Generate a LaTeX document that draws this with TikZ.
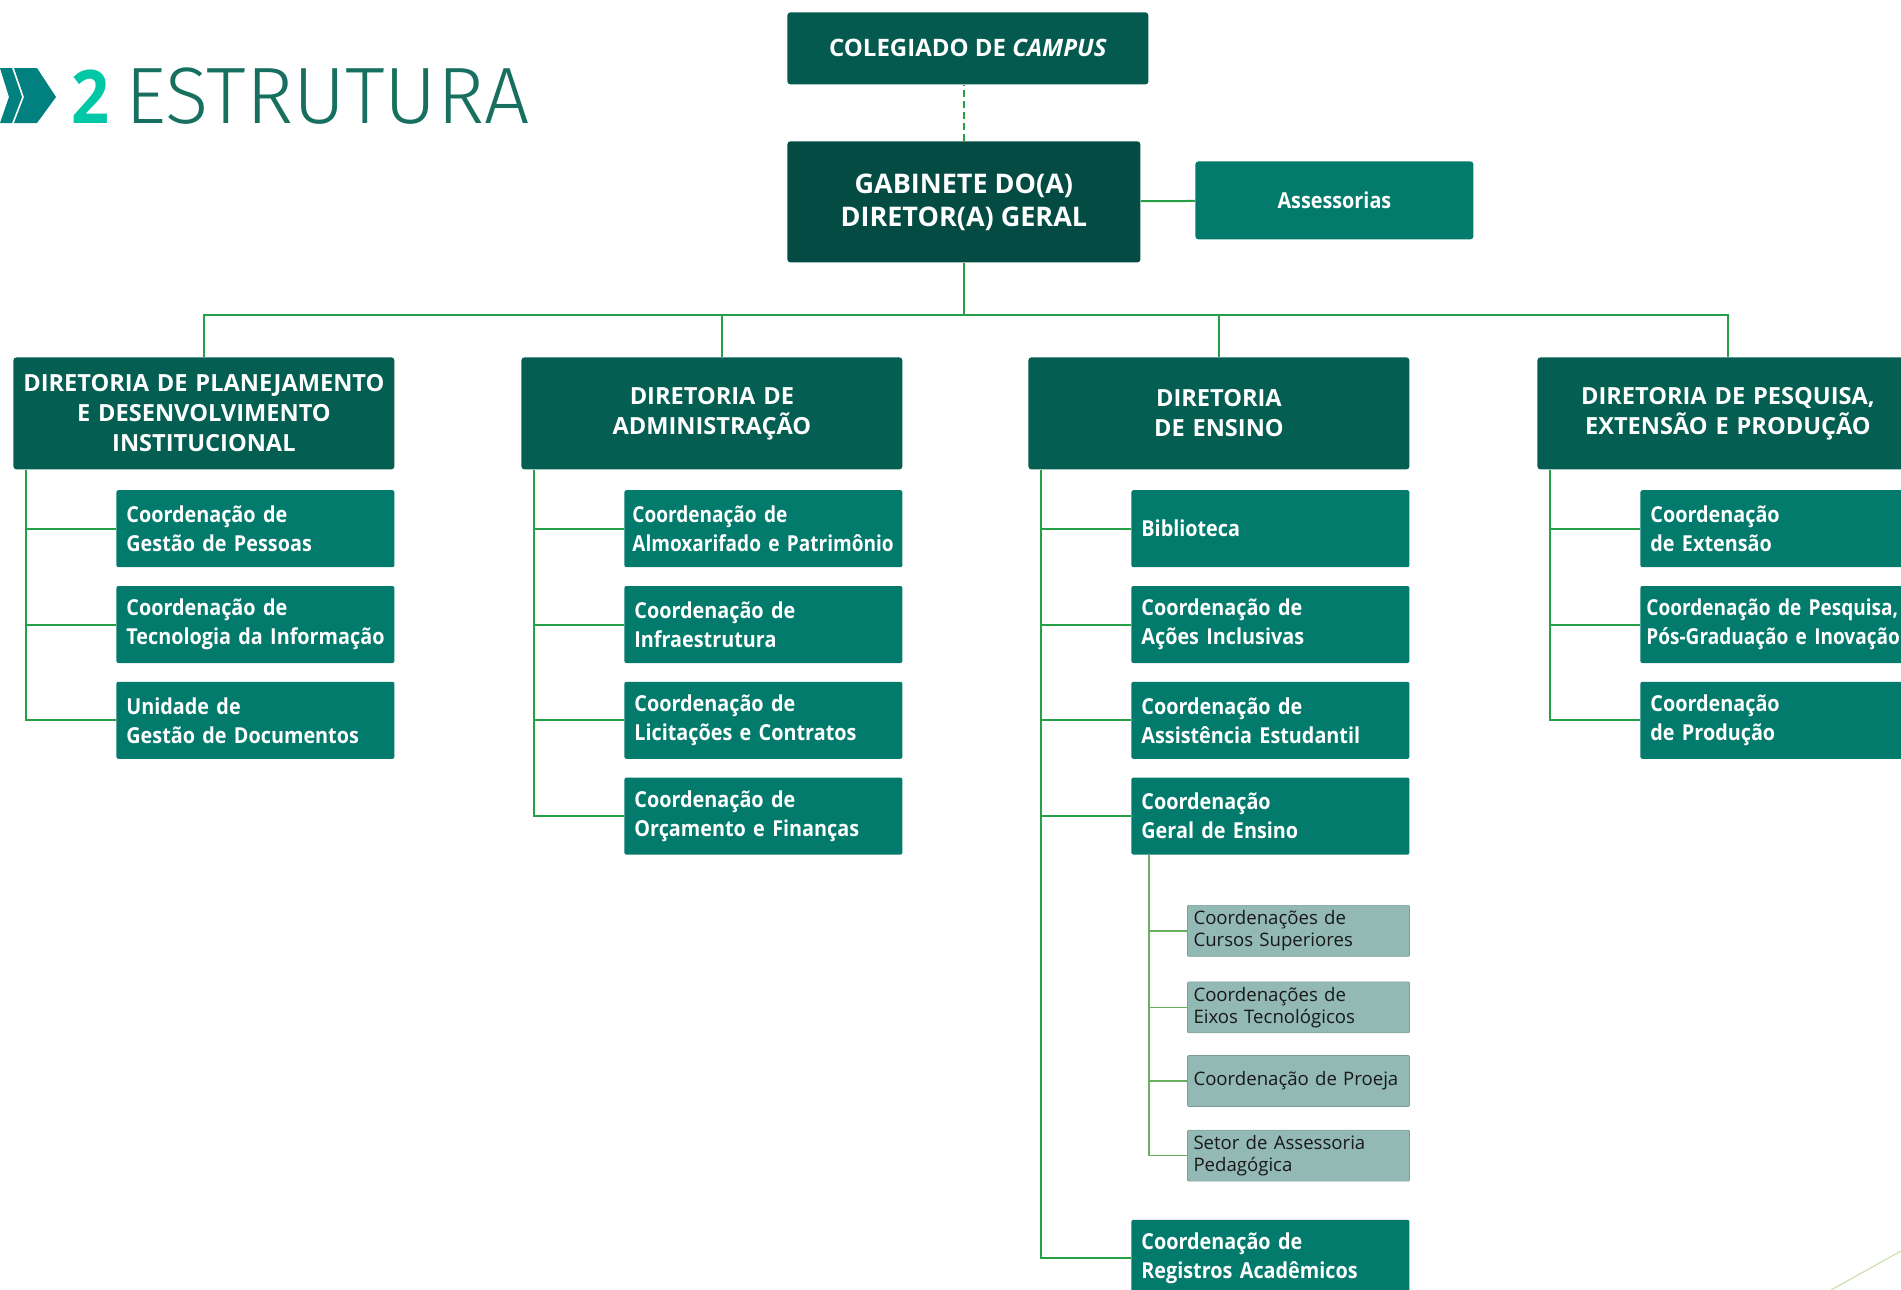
\documentclass[tikz,border=0pt]{standalone}
\usepackage{fontspec}
\setmainfont{Open Sans}
\newfontfamily\boxfont{Open Sans}[FakeStretch=0.9]
\newfontfamily\narrowfont{Open Sans}[FakeStretch=0.865]
\newfontfamily\titlefont{Fira Sans Light}
\usetikzlibrary{positioning}
\usetikzlibrary{calc}
\definecolor{cchev}{HTML}{00807E}
\definecolor{cnum}{HTML}{00C7A5}
\definecolor{ctitle}{HTML}{17705F}
\definecolor{ccol}{HTML}{045A4E}
\definecolor{cgab}{HTML}{044C43}
\definecolor{cdir}{HTML}{045E52}
\definecolor{ccoord}{HTML}{027A6C}
\definecolor{clight}{HTML}{92B9B4}
\definecolor{clink}{HTML}{25A047}
\definecolor{clinklt}{HTML}{6AAE5F}
\definecolor{cdeco}{HTML}{C8E2AE}
\tikzset{
  topbox/.style={fill=ccol, text=white, rounded corners=1.5pt, anchor=north west,
    inner sep=0pt, align=center},
  dirbox/.style={fill=cdir, text=white, rounded corners=1.5pt, anchor=north west,
    inner sep=0pt, text width=190.5pt, minimum height=56pt, align=center,
    font=\bfseries\fontsize{11.8}{15}\selectfont},
  coordbox/.style={fill=ccoord, text=white, rounded corners=1pt, inner xsep=5pt,
    inner ysep=0pt, text width=129pt, minimum height=38.5pt, align=left,
    font=\boxfont\bfseries\fontsize{11}{14.5}\selectfont},
  subbox/.style={fill=clight, draw=clight!85!black, line width=0.3pt, text=black!90,
    rounded corners=0.5pt, inner xsep=3pt, inner ysep=0pt, text width=105pt,
    minimum height=25.5pt, align=left, font=\fontsize{9.3}{11}\selectfont},
  link/.style={draw=clink, line width=1pt},
  sublink/.style={draw=clinklt, line width=0.8pt}
}
\begin{document}
\begin{tikzpicture}[x=0.5pt,y=-0.5pt, node distance=9pt]
\useasboundingbox (0,0) rectangle (1901,1290);

% title
\fill[cchev] (0,68) -- (12,68) -- (22,97) -- (12,123) -- (0,123) -- (9,97) -- cycle;
\fill[cchev] (14,68) -- (37,68) -- (56,97) -- (37,123) -- (14,123) -- (24,97) -- cycle;
\node[anchor=base west, inner sep=0pt, text=cnum,
      font=\boxfont\bfseries\fontsize{37}{37}\selectfont] (num) at (71,123) {2};
\node[anchor=base west, inner sep=0pt, text=ctitle,
      font=\titlefont\fontsize{40}{40}\selectfont] (title) at (125,123) {ESTRUTURA};

% top
\node[topbox, minimum width=180.5pt, minimum height=36pt,
      font=\bfseries\fontsize{12}{15}\selectfont] (col) at (787,12)
      {COLEGIADO DE \textit{CAMPUS}};
\node[topbox, fill=cgab, minimum width=176.5pt, minimum height=60.5pt,
      font=\bfseries\fontsize{13.5}{16.5}\selectfont] (gab) at (787,141)
      {GABINETE DO(A)\\DIRETOR(A) GERAL};
\node[topbox, fill=ccoord, minimum width=139pt, minimum height=39pt,
      font=\boxfont\bfseries\fontsize{11}{14}\selectfont] (ass) at (1195,161)
      {Assessorias};

% diretorias
\node[dirbox] (dirA) at (13,357) {DIRETORIA DE PLANEJAMENTO\\E DESENVOLVIMENTO\\INSTITUCIONAL};
\node[dirbox] (dirB) at (521,357) {DIRETORIA DE\\ADMINISTRAÇÃO};
\node[dirbox] (dirC) at (1028,357) {DIRETORIA\\DE ENSINO};
\node[dirbox] (dirD) at (1537,357) {DIRETORIA DE PESQUISA,\\EXTENSÃO E PRODUÇÃO};

% coordenacoes
\node[coordbox, below=10pt of dirA.south east, anchor=north east] (a1) {Coordenação de\\Gestão de Pessoas};
\node[coordbox, below=of a1] (a2) {Coordenação de\\\mbox{Tecnologia da Informação}};
\node[coordbox, below=of a2] (a3) {Unidade de\\Gestão de Documentos};

\node[coordbox, below=10pt of dirB.south east, anchor=north east, inner xsep=4pt, text width=131pt,
      font=\narrowfont\bfseries\fontsize{11}{14.5}\selectfont] (b1) {Coordenação de\\\mbox{Almoxarifado e Patrimônio}};
\node[coordbox, below=of b1] (b2) {Coordenação de\\Infraestrutura};
\node[coordbox, below=of b2] (b3) {Coordenação de\\Licitações e Contratos};
\node[coordbox, below=of b3] (b4) {Coordenação de\\Orçamento e Finanças};

\node[coordbox, below=10pt of dirC.south east, anchor=north east] (c1) {Biblioteca};
\node[coordbox, below=of c1] (c2) {Coordenação de\\Ações Inclusivas};
\node[coordbox, below=of c2] (c3) {Coordenação de\\Assistência Estudantil};
\node[coordbox, below=of c3] (c4) {Coordenação\\Geral de Ensino};

\node[subbox, below=25pt of c4.south east, anchor=north east] (s1) {Coordenações de\\Cursos Superiores};
\node[subbox, below=12.5pt of s1] (s2) {Coordenações de\\Eixos Tecnológicos};
\node[subbox, below=11pt of s2] (s3) {Coordenação de Proeja};
\node[subbox, below=11.5pt of s3] (s4) {Setor de Assessoria\\Pedagógica};
\node[coordbox, below=19pt of s4.south east, anchor=north east] (c5) {Coordenação de\\Registros Acadêmicos};

\node[coordbox, below=10pt of dirD.south west, anchor=north west, xshift=51.5pt, text width=160pt] (d1) {Coordenação\\de Extensão};
\node[coordbox, below=of d1.south west, anchor=north west, inner xsep=3pt, text width=164pt,
      font=\narrowfont\bfseries\fontsize{11}{14.5}\selectfont] (d2) {Coordenação de Pesquisa,\\Pós-Graduação e Inovação};
\node[coordbox, below=of d2.south west, anchor=north west, text width=160pt] (d3) {Coordenação\\de Produção};

% ligacoes
\draw[link, dashed, dash pattern=on 3.5pt off 2pt] (gab.north) -- (gab.north |- col.south);
\draw[link] (gab) -- (ass);
\foreach \d/\dx in {dirA/0,dirB/10,dirC/0,dirD/0}
  \draw[link] (gab.south) -- ++(0,52) -| ($(\d.north)+(\dx,0)$);
\foreach \d/\last in {dirA/a3,dirB/b4,dirC/c5,dirD/d3}
  \draw[link] ($(\d.south west)+(13,0)$) |- (\last.west);
\foreach \n in {a1,a2} \draw[link] (\n.west) -- ($(\n.west -| dirA.south west)+(13,0)$);
\foreach \n in {b1,b2,b3} \draw[link] (\n.west) -- ($(\n.west -| dirB.south west)+(13,0)$);
\foreach \n in {c1,c2,c3,c4} \draw[link] (\n.west) -- ($(\n.west -| dirC.south west)+(13,0)$);
\foreach \n in {d1,d2} \draw[link] (\n.west) -- ($(\n.west -| dirD.south west)+(13,0)$);
\draw[sublink] ($(c4.south west)+(18,0)$) |- (s4.west);
\foreach \n in {s1,s2,s3} \draw[sublink] (\n.west) -- ($(\n.west -| c4.south west)+(18,0)$);

% detalhe
\draw[cdeco, line width=0.6pt] (1831,1290) -- (1901,1251);
\end{tikzpicture}
\end{document}
